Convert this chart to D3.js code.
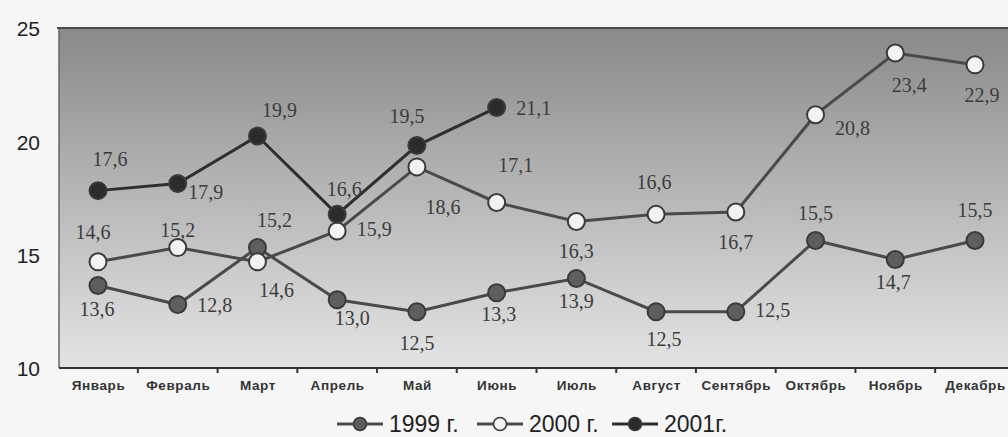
<!DOCTYPE html>
<html>
<head>
<meta charset="utf-8">
<script src="https://cdn.jsdelivr.net/npm/d3@7"></script>
<style>
  body { margin: 0; background: #f6f6f6; }
  svg { display: block; }
</style>
</head>
<body>
<div id="chart"></div>
<script>
// data
const months = ['Январь', 'Февраль', 'Март', 'Апрель', 'Май', 'Июнь', 'Июль', 'Август', 'Сентябрь', 'Октябрь', 'Ноябрь', 'Декабрь']
const v1999 = [13.6, 12.8, 15.2, 13.0, 12.5, 13.3, 13.9, 12.5, 12.5, 15.5, 14.7, 15.5]
const v2000 = [14.6, 15.2, 14.6, 15.9, 18.6, 17.1, 16.3, 16.6, 16.7, 20.8, 23.4, 22.9]
const v2001 = [17.6, 17.9, 19.9, 16.6, 19.5, 21.1]
const yTicks = [10, 15, 20, 25]
const seriesNames = ['1999 г.', '2000 г.', '2001г.']

// where each value label sits relative to its point (dx, dy)
const off1999 = [[-1,23],[37,0],[17,-28],[15,18],[0,31],[2,21],[0,23],[8,27],[37,-2],[0,-27],[-2,23],[0,-30]]
const off2000 = [[-5,-30],[0,-18],[19,28],[37,-2],[26,40],[19,-37],[0,30],[-2,-32],[0,30],[37,13],[14,32],[7,30]]
const off2001 = [[12,-32],[28,8],[22,-26],[7,-25],[-10,-30],[37,0]]

const svgWidth = 1008
const svgHeight = 437
const frame = {left: 59, right: 1008, top: 28, bottom: 368}

let svg = d3.select('#chart')
  .append('svg')
  .attr('width', svgWidth)
  .attr('height', svgHeight)

let defs = svg.append('defs')
let grad = defs.append('linearGradient')
  .attr('id', 'bg')
  .attr('x1', 0).attr('y1', 0).attr('x2', 0).attr('y2', 1)
grad.append('stop').attr('offset', '0%').attr('stop-color', '#898989')
grad.append('stop').attr('offset', '45%').attr('stop-color', '#b3b3b3')
grad.append('stop').attr('offset', '100%').attr('stop-color', '#e4e4e4')

// scale used for the frame and the axis labels
let axisScale = d3.scaleLinear()
  .domain([10, 25])
  .range([frame.bottom, frame.top])

// scale for the data marks (the printed chart is a bit stretched)
let yScale = d3.scaleLinear()
  .domain([10, 25])
  .range([371, 15])

let xScale = d3.scalePoint()
  .domain(months)
  .range([98, 975])

// plot background
svg.append('rect')
  .attr('x', frame.left)
  .attr('y', frame.top)
  .attr('width', frame.right - frame.left)
  .attr('height', frame.bottom - frame.top)
  .attr('fill', 'url(#bg)')

svg.append('line')
  .attr('x1', frame.left - 2).attr('x2', frame.right)
  .attr('y1', frame.top).attr('y2', frame.top)
  .attr('stroke', '#4a4a4a').attr('stroke-width', 2)

svg.append('line')
  .attr('x1', frame.left).attr('x2', frame.left)
  .attr('y1', frame.top).attr('y2', frame.bottom)
  .attr('stroke', '#666').attr('stroke-width', 1.5)

// y axis labels
let yAxis = svg.append('g')
  .attr('transform', 'translate(' + frame.left + ',0)')
  .call(d3.axisLeft(axisScale).tickValues(yTicks).tickSize(0).tickPadding(19))
yAxis.select('.domain').remove()
yAxis.selectAll('text')
  .attr('font-family', 'Liberation Sans, Arial, sans-serif')
  .attr('font-size', 21)
  .attr('fill', '#222')
  .attr('dy', '0.38em')

// x axis
let step = xScale.step()
let xAxis = svg.append('g')
  .attr('transform', 'translate(0,' + frame.bottom + ')')
  .call(d3.axisBottom(xScale).tickSize(0).tickPadding(12))
xAxis.select('.domain')
  .attr('d', 'M' + frame.left + ',0H' + frame.right)
  .attr('stroke', '#333')
  .attr('stroke-width', 2)
xAxis.selectAll('text')
  .attr('font-family', 'Liberation Sans, Arial, sans-serif')
  .attr('font-weight', 'bold')
  .attr('font-size', 13.5)
  .attr('letter-spacing', 0.6)
  .attr('fill', '#333')

// small ticks between categories
xAxis.selectAll('.sep')
  .data(months.slice(1))
  .enter()
  .append('line')
  .attr('class', 'sep')
  .attr('x1', d => xScale(d) - step / 2)
  .attr('x2', d => xScale(d) - step / 2)
  .attr('y1', 0)
  .attr('y2', 5)
  .attr('stroke', '#333')
  .attr('stroke-width', 2)

const series = [
  {name: seriesNames[0], values: v1999, offsets: off1999, fill: '#5e5e5e', line: '#4a4a4a'},
  {name: seriesNames[1], values: v2000, offsets: off2000, fill: '#f2f2f2', line: '#4a4a4a'},
  {name: seriesNames[2], values: v2001, offsets: off2001, fill: '#2b2b2b', line: '#2e2e2e'}
]

let line = d3.line()
  .x((d, i) => xScale(months[i]))
  .y(d => yScale(d))

let fmt = v => d3.format('.1f')(v).replace('.', ',')

series.forEach(s => {
  let g = svg.append('g')

  g.append('path')
    .datum(s.values)
    .attr('d', line)
    .attr('fill', 'none')
    .attr('stroke', s.line)
    .attr('stroke-width', 3)

  g.selectAll('circle')
    .data(s.values)
    .enter()
    .append('circle')
    .attr('cx', (d, i) => xScale(months[i]))
    .attr('cy', d => yScale(d))
    .attr('r', 8.5)
    .attr('fill', s.fill)
    .attr('stroke', '#3a3a3a')
    .attr('stroke-width', 2)
})

// value labels on top of everything
series.forEach(s => {
  svg.append('g').selectAll('text')
    .data(s.values)
    .enter()
    .append('text')
    .attr('x', (d, i) => xScale(months[i]) + s.offsets[i][0])
    .attr('y', (d, i) => yScale(d) + s.offsets[i][1])
    .attr('dy', '0.35em')
    .attr('text-anchor', 'middle')
    .attr('font-family', 'Liberation Serif, Times New Roman, serif')
    .attr('font-size', 20)
    .attr('fill', '#3c3c3c')
    .text(d => fmt(d))
})

// legend
let legendX = [337, 477, 612]
let legend = svg.append('g').attr('transform', 'translate(0,424)')
series.forEach((s, i) => {
  let lg = legend.append('g').attr('transform', 'translate(' + legendX[i] + ',0)')
  lg.append('line')
    .attr('x1', 0).attr('x2', 46)
    .attr('y1', 0).attr('y2', 0)
    .attr('stroke', s.line).attr('stroke-width', 3)
  lg.append('circle')
    .attr('cx', 23).attr('cy', 0).attr('r', 6.5)
    .attr('fill', s.fill)
    .attr('stroke', '#3a3a3a').attr('stroke-width', 1.5)
  lg.append('text')
    .attr('x', 52)
    .attr('dy', '0.36em')
    .attr('font-family', 'Liberation Sans, Arial, sans-serif')
    .attr('font-size', 23)
    .attr('fill', '#222')
    .text(s.name)
})
</script>
</body>
</html>
